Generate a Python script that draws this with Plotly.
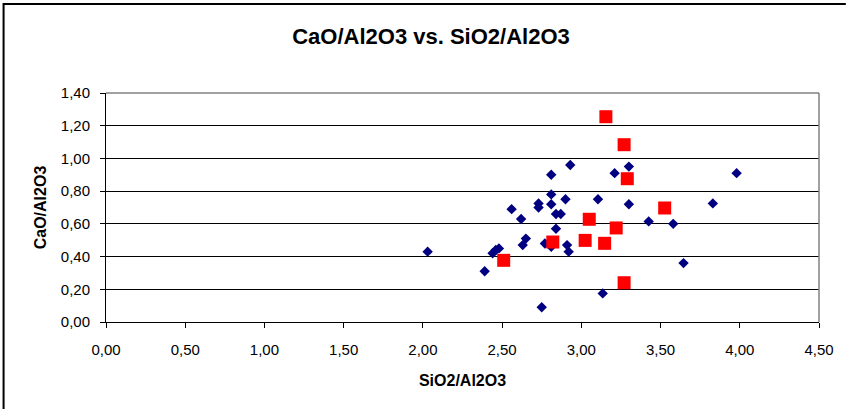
import plotly.graph_objects as go

# Blue diamonds series
blue_x = [2.03, 2.39, 2.44, 2.46, 2.48, 2.56, 2.62, 2.65, 2.63, 2.73, 2.73, 2.75, 2.77,
          2.81, 2.93, 2.81, 2.81, 2.90, 2.84, 2.87, 2.84, 2.81, 2.91, 2.92,
          3.105, 3.21, 3.30, 3.30, 3.425, 3.58, 3.645, 3.135, 3.83, 3.98]
blue_y = [0.43, 0.31, 0.42, 0.44, 0.45, 0.69, 0.63, 0.51, 0.47, 0.725, 0.70, 0.09, 0.48,
          0.90, 0.96, 0.78, 0.72, 0.75, 0.66, 0.66, 0.57, 0.46, 0.47, 0.43,
          0.75, 0.91, 0.95, 0.72, 0.615, 0.60, 0.36, 0.175, 0.725, 0.91]

# Red squares series
red_x = [3.155, 3.27, 3.29, 3.526, 3.05, 3.22, 3.024, 3.147, 2.82, 3.27, 2.51]
red_y = [1.255, 1.084, 0.876, 0.697, 0.628, 0.575, 0.499, 0.481, 0.489, 0.24, 0.377]

x_ticks = [0, 0.5, 1.0, 1.5, 2.0, 2.5, 3.0, 3.5, 4.0, 4.5]
y_ticks = [0, 0.2, 0.4, 0.6, 0.8, 1.0, 1.2, 1.4]

W, H = 846, 409
L, R, T, B = 106, 23, 93, 87
pw, ph = W - L - R, H - T - B

fig = go.Figure()
fig.add_trace(go.Scatter(x=blue_x, y=blue_y, mode="markers",
                         marker=dict(symbol="diamond", size=8, color="#000080",
                                     line=dict(width=0)), showlegend=False))
fig.add_trace(go.Scatter(x=red_x, y=red_y, mode="markers",
                         marker=dict(symbol="square", size=13, color="#FF0000",
                                     line=dict(width=0)), showlegend=False))

def px_x(p):
    return (p - L) / pw

def px_y(p):
    return (H - B - p) / ph

shapes = [
    # outer chart frame (left and top)
    dict(type="line", xref="paper", yref="paper", x0=px_x(3), x1=px_x(3),
         y0=px_y(3), y1=px_y(412), line=dict(color="black", width=2)),
    dict(type="line", xref="paper", yref="paper", x0=px_x(3), x1=px_x(850),
         y0=px_y(4), y1=px_y(4), line=dict(color="black", width=2)),
    # plot area border (top, right) gray
    dict(type="line", xref="paper", yref="paper", x0=0, x1=1, y0=1, y1=1,
         line=dict(color="#808080", width=1.5)),
    dict(type="line", xref="paper", yref="paper", x0=1, x1=1, y0=0, y1=1,
         line=dict(color="#808080", width=1.5)),
]

font = "Liberation Sans, Arial, sans-serif"
fig.update_layout(
    width=W, height=H,
    margin=dict(l=L, r=R, t=T, b=B),
    paper_bgcolor="white", plot_bgcolor="white",
    separators=",.",
    font=dict(family=font, size=15, color="black"),
    title=dict(text="<b>CaO/Al2O3 vs. SiO2/Al2O3</b>", x=431 / W, xanchor="center",
               y=1 - 36 / H, yanchor="middle", font=dict(size=22, family=font)),
    xaxis=dict(range=[0, 4.5], tickvals=x_ticks, tickformat=".2f",
               showgrid=False, zeroline=False, showline=True, linecolor="black",
               linewidth=1, ticks="outside", ticklen=5, tickcolor="black",
               tickfont=dict(size=15), ticklabelstandoff=9,
               title=dict(text="<b>SiO2/Al2O3</b>", font=dict(size=16), standoff=17)),
    yaxis=dict(range=[0, 1.4], tickvals=y_ticks, tickformat=".2f",
               showgrid=True, gridcolor="black", gridwidth=1,
               zeroline=False, showline=True, linecolor="black", linewidth=1,
               ticks="outside", ticklen=5, tickcolor="black",
               tickfont=dict(size=15), ticklabelstandoff=7,
               title=dict(text="<b>CaO/Al2O3</b>", font=dict(size=16), standoff=10)),
    shapes=shapes,
)

fig.write_html("out.html")
